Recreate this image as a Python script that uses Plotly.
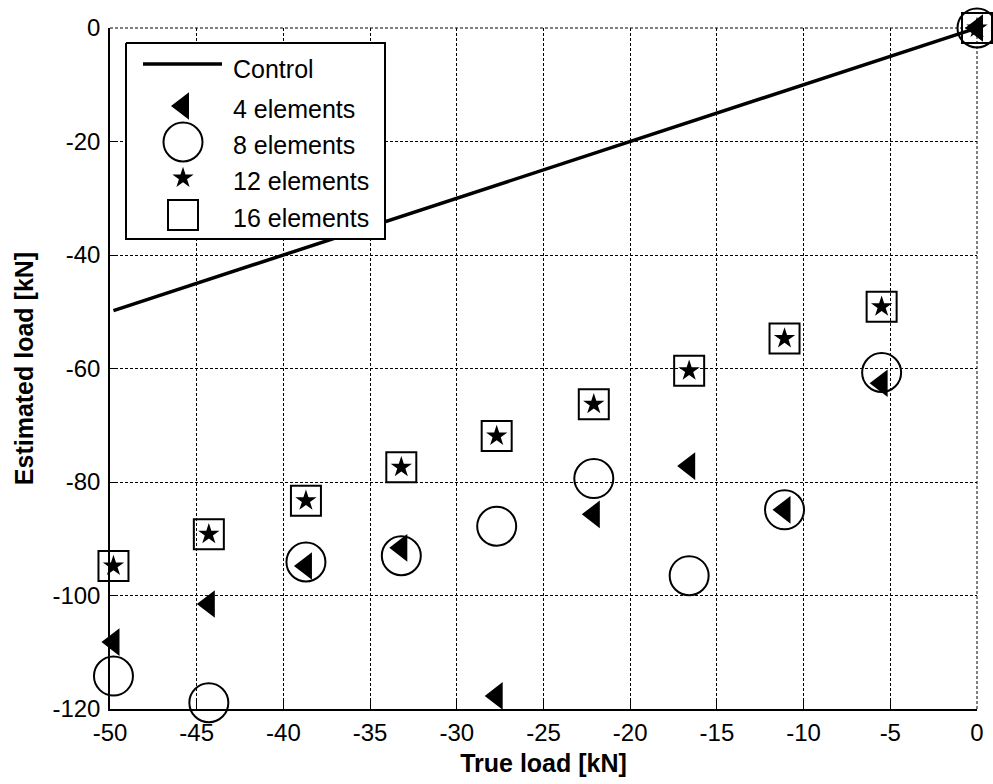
import plotly.graph_objects as go

# True applied load and the load estimated with each element count [kN]
true_load = [-49.8, -44.3, -38.7, -33.2, -27.7, -22.1, -16.6, -11.1, -5.5, 0.0]
est_4_elements = [-108.2, -101.5, -94.8, -91.6, -117.7, -85.7, -77.2, -84.9, -62.6, 0.0]
est_8_elements = [-114.2, -118.9, -94.1, -93.0, -87.8, -79.4, -96.5, -84.9, -60.7, 0.0]
est_12_elements = [-94.8, -89.2, -83.3, -77.4, -71.9, -66.3, -60.4, -54.7, -49.1, 0.0]
est_16_elements = [-94.8, -89.2, -83.3, -77.4, -71.9, -66.3, -60.4, -54.7, -49.1, 0.0]

# Reference (control) line: estimated == true
control_x = [-49.8, 0.0]
control_y = [-49.8, 0.0]

x_ticks = [-50, -45, -40, -35, -30, -25, -20, -15, -10, -5, 0]
x_tick_text = ["-50", "-45", "-40", "-35", "-30", "-25", "-20", "-15", "-10", "-5", "0"]
y_ticks = [-120, -100, -80, -60, -40, -20, 0]
y_tick_text = ["-120", "-100", "-80", "-60", "-40", "-20", "0"]

legend_labels = ["Control", "4 elements", "8 elements", "12 elements", "16 elements"]

FONT = "Liberation Sans, Arial, sans-serif"
W, H = 993, 784
M_L, M_R, M_T, M_B = 110, 16, 28, 75
PW, PH = W - M_L - M_R, H - M_T - M_B
GRID_DASH = "3px,2px"

# marker styles shared by data and legend
styles = {
    "4 elements": dict(symbol="triangle-left", size=24, color="black", line=dict(width=0)),
    "8 elements": dict(symbol="circle-open", size=39, color="black", line=dict(width=2)),
    "12 elements": dict(symbol="star", size=16, color="black", line=dict(width=0)),
    "16 elements": dict(symbol="square-open", size=30, color="black", line=dict(width=2)),
}
series = {
    "4 elements": est_4_elements,
    "8 elements": est_8_elements,
    "12 elements": est_12_elements,
    "16 elements": est_16_elements,
}

fig = go.Figure()

fig.add_trace(go.Scatter(
    x=control_x, y=control_y, mode="lines",
    line=dict(color="black", width=3.5), showlegend=False, cliponaxis=False,
))
for name, vals in series.items():
    fig.add_trace(go.Scatter(
        x=true_load, y=vals, mode="markers", name=name,
        marker=styles[name], showlegend=False, cliponaxis=False,
    ))

# Legend drawn on an overlay axis measured in pixels from the plot's top-left corner
box_x0, box_x1, box_y0, box_y1 = 16, 275, 15, 211
row_y = [38, 78, 114, 150, 187]
glyph_x = 73
text_x = 121

fig.add_trace(go.Scatter(
    x=[box_x0, box_x1, box_x1, box_x0, box_x0],
    y=[box_y0, box_y0, box_y1, box_y1, box_y0],
    mode="lines", fill="toself", fillcolor="white",
    line=dict(color="black", width=2), xaxis="x2", yaxis="y2",
    showlegend=False, hoverinfo="skip",
))
fig.add_trace(go.Scatter(
    x=[33, 112], y=[row_y[0] - 2, row_y[0] - 2], mode="lines",
    line=dict(color="black", width=3.5), xaxis="x2", yaxis="y2",
    showlegend=False, hoverinfo="skip",
))
for i, name in enumerate(legend_labels[1:], start=1):
    fig.add_trace(go.Scatter(
        x=[glyph_x], y=[row_y[i]], mode="markers", marker=styles[name],
        xaxis="x2", yaxis="y2", showlegend=False, hoverinfo="skip",
    ))
for i, label in enumerate(legend_labels):
    fig.add_annotation(
        x=text_x, y=row_y[i] + 3, xref="x2", yref="y2", text=label,
        showarrow=False, xanchor="left", yanchor="middle",
        font=dict(family=FONT, size=25, color="black"),
    )

# dotted grid lines along the top and right edges of the axes box
fig.add_shape(type="line", xref="paper", yref="paper", x0=0, x1=1, y0=1, y1=1,
              line=dict(color="black", width=1, dash=GRID_DASH), layer="below")
fig.add_shape(type="line", xref="paper", yref="paper", x0=1, x1=1, y0=0, y1=1,
              line=dict(color="black", width=1, dash=GRID_DASH), layer="below")

axis_common = dict(
    showgrid=True, gridcolor="black", gridwidth=1, griddash=GRID_DASH,
    zeroline=False, showline=True, linecolor="black", linewidth=1.5,
    ticks="inside", ticklen=8, tickcolor="black", tickwidth=1,
    tickfont=dict(family=FONT, size=24, color="black"),
    mirror=False,
)

fig.update_layout(
    width=W, height=H,
    margin=dict(l=M_L, r=M_R, t=M_T, b=M_B, autoexpand=False),
    paper_bgcolor="white", plot_bgcolor="white",
    showlegend=False,
    xaxis=dict(
        range=[-50, 0], tickvals=x_ticks, ticktext=x_tick_text, ticklabelstandoff=1,
        title=dict(text="True load [kN]", standoff=10,
                   font=dict(family=FONT, size=25, color="black", weight="bold")),
        **axis_common,
    ),
    yaxis=dict(
        range=[-120, 0], tickvals=y_ticks, ticktext=y_tick_text, ticklabelstandoff=3,
        title=dict(text="Estimated load [kN]", standoff=12,
                   font=dict(family=FONT, size=25, color="black", weight="bold")),
        **axis_common,
    ),
    xaxis2=dict(range=[0, PW], overlaying="x", anchor="y2", visible=False, fixedrange=True),
    yaxis2=dict(range=[PH, 0], overlaying="y", anchor="x2", visible=False, fixedrange=True),
)

fig.write_html("out.html")
